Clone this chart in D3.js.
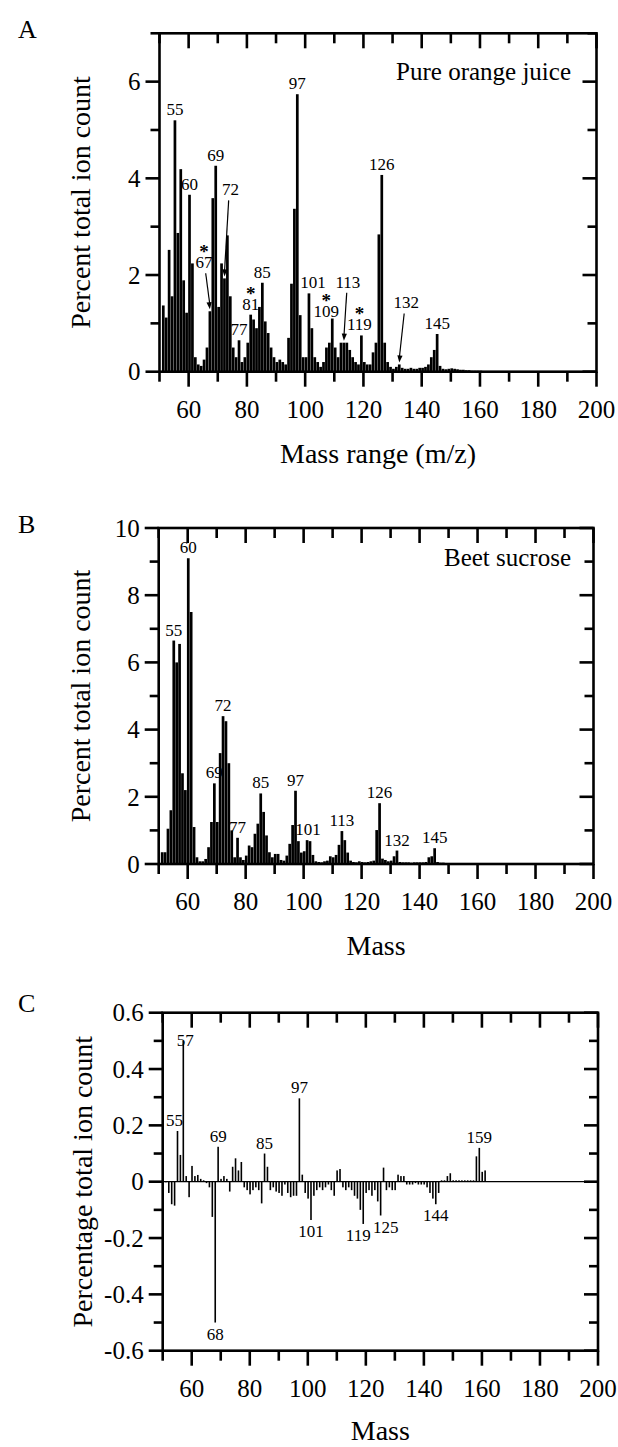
<!DOCTYPE html>
<html><head><meta charset="utf-8">
<script src="https://cdn.jsdelivr.net/npm/d3@7"></script>
<style>
body{margin:0;background:#fff}
svg{display:block}
text{font-family:"Liberation Serif","Times New Roman",serif;fill:#000}
</style>
</head><body>
<svg id="chart" width="618" height="1447"></svg>
<script>
// ---------- DATA ----------
const massStart = 51; // first mass of each values array (m/z 51, 52, ...)
const valuesA = [1.37,1.12,2.52,1.56,5.20,2.87,4.19,1.89,1.22,3.66, // 51-60
  2.24,0.30,0.15,0.12,0.25,0.50,1.25,3.59,4.26,1.34, // 61-70
  2.24,1.93,2.82,1.56,0.50,0.30,0.65,0.20,0.30,0.60, // 71-80
  1.18,1.08,0.90,1.34,1.84,1.04,0.80,0.50,0.30,0.20, // 81-90
  0.25,0.20,0.15,0.70,1.82,3.37,5.74,1.17,0.30,0.30, // 91-100
  1.62,0.90,0.30,0.20,0.10,0.20,0.50,0.60,1.10,0.50, // 101-110
  0.30,0.60,0.60,0.60,0.45,0.30,0.20,0.15,0.75,0.20, // 111-120
  0.15,0.15,0.40,0.60,2.84,4.07,0.60,0.20,0.10,0.06, // 121-130
  0.10,0.15,0.08,0.06,0.06,0.08,0.06,0.06,0.08,0.08, // 131-140
  0.10,0.15,0.30,0.45,0.78,0.12,0.06,0.05,0.06,0.07, // 141-150
  0.06,0.05,0.04,0.04,0.03,0.03,0.02,0.02,0.02,0.02]; // 151-160
const valuesB = [0.35,0.35,1.05,1.60,6.65,6.00,6.55,2.70,2.20,9.10, // 51-60
  7.50,1.10,0.20,0.08,0.08,0.15,0.50,1.25,2.40,1.25, // 61-70
  3.30,4.40,4.25,3.00,1.00,0.20,0.78,0.20,0.12,0.25, // 71-80
  0.55,0.50,0.90,1.20,2.10,1.55,0.85,0.35,0.20,0.30, // 81-90
  0.30,0.12,0.10,0.25,0.60,1.16,2.18,0.68,0.34,0.38, // 91-100
  0.71,0.68,0.27,0.08,0.06,0.05,0.08,0.10,0.23,0.20, // 101-110
  0.27,0.57,0.98,0.71,0.34,0.10,0.06,0.05,0.08,0.06, // 111-120
  0.05,0.06,0.08,0.10,1.01,1.81,0.16,0.12,0.08,0.10, // 121-130
  0.23,0.40,0.06,0.05,0.05,0.05,0.04,0.05,0.05,0.05, // 131-140
  0.05,0.06,0.20,0.23,0.47,0.06,0.04,0.04,0.03,0.03, // 141-150
  0.02,0.02,0.02,0.02,0.02,0.02,0.02,0.02,0.02,0.02]; // 151-160
const valuesC = [0,-0.04,-0.08,-0.085,0.18,0.095,0.50,0.02,-0.055,0.056, // 51-60
  0.02,0.024,0.01,0.005,-0.005,-0.02,-0.125,-0.50,0.124,0.01, // 61-70
  0.02,0.01,-0.035,0.053,0.083,0.04,0.07,-0.02,-0.03,-0.045, // 71-80
  -0.03,-0.02,-0.03,-0.077,0.10,0.053,-0.03,-0.02,-0.035,-0.04, // 81-90
  -0.05,-0.01,-0.04,-0.055,-0.05,-0.05,0.296,0.025,-0.04,-0.06, // 91-100
  -0.136,-0.05,-0.03,-0.02,-0.03,-0.02,-0.01,-0.03,-0.05,0.04, // 101-110
  0.045,-0.02,-0.03,-0.02,-0.03,-0.05,-0.06,-0.10,-0.15,-0.04, // 111-120
  -0.03,-0.05,-0.03,-0.07,-0.12,0.05,-0.03,-0.02,-0.03,-0.03, // 121-130
  0.025,0.02,0.02,-0.01,-0.01,-0.01,-0.005,-0.01,-0.01,-0.01, // 131-140
  -0.02,-0.04,-0.06,-0.08,-0.04,0.005,0.005,0.02,0.03,0.005, // 141-150
  0.005,0.005,0.005,0.005,0.005,0.005,0.005,0.09,0.12,0.035, // 151-160
  0.04]; // 161

const xTicks = [50,60,70,80,90,100,110,120,130,140,150,160,170,180,190,200];
const xTickLabels = [60,80,100,120,140,160,180,200];
const yTicksA = [0,1,2,3,4,5,6,7];
const yTickLabelsA = [0,2,4,6];
const yTicksB = [0,1,2,3,4,5,6,7,8,9,10];
const yTickLabelsB = [0,2,4,6,8,10];
const yTicksC = [-0.6,-0.5,-0.4,-0.3,-0.2,-0.1,0,0.1,0.2,0.3,0.4,0.5,0.6];
const yTickLabelsC = [-0.6,-0.4,-0.2,0,0.2,0.4,0.6];

// annotations: mass, text, flags
const annotA = [
  {m:55,t:"55"},{m:60,t:"60"},{m:67,t:"67",star:true,arrow:true},{m:69,t:"69"},
  {m:72,t:"72",arrow:true},{m:77,t:"77"},{m:81,t:"81",star:true},{m:85,t:"85"},
  {m:97,t:"97"},{m:101,t:"101"},{m:109,t:"109",star:true},{m:113,t:"113",arrow:true},
  {m:119,t:"119",star:true},{m:126,t:"126"},{m:132,t:"132",arrow:true},{m:145,t:"145"}];
const annotB = [
  {m:55,t:"55"},{m:60,t:"60"},{m:69,t:"69"},{m:72,t:"72"},{m:77,t:"77"},{m:85,t:"85"},
  {m:97,t:"97"},{m:101,t:"101"},{m:113,t:"113"},{m:126,t:"126"},{m:132,t:"132"},{m:145,t:"145"}];
const annotC = [
  {m:55,t:"55"},{m:57,t:"57"},{m:68,t:"68"},{m:69,t:"69"},{m:85,t:"85"},{m:97,t:"97"},
  {m:101,t:"101"},{m:119,t:"119"},{m:125,t:"125"},{m:144,t:"144"},{m:159,t:"159"}];

// ---------- LAYOUT (pixel placement only) ----------
const layoutA = {left:159.5, right:596.5, top:33.3, bottom:371.7, yDomain:[0,7],
  labelShift:{67:[-6,-38],72:[6,-78],101:[4,0],109:[-6,3],113:[4,-50],119:[-2,0],132:[7,-51]}};
const layoutB = {left:158.7, right:593.5, top:528, bottom:864, yDomain:[0,10], labelShift:{101:[1,0]}};
const layoutC = {left:162.7, right:598, top:1012.7, bottom:1350.7, yDomain:[-0.6,0.6],
  labelShift:{55:[-3,0],57:[2,10],119:[-5,0],125:[5,0]}};

const svg = d3.select("#chart");

function drawPanel(g, L, values, ticksY, labelsY, yFmt, annots, opts) {
  const x = d3.scaleLinear().domain([50,200]).range([L.left, L.right]);
  const y = d3.scaleLinear().domain(L.yDomain).range([L.bottom, L.top]);
  const masses = values.map((v,i)=>massStart+i);
  const bw = opts.barWidth;
  g.append("g").selectAll("rect").data(values).join("rect")
    .attr("x",(d,i)=>x(masses[i]+opts.barShift)-bw/2)
    .attr("y",d=>Math.min(y(d),y(0)))
    .attr("width",bw)
    .attr("height",d=>Math.max(0.6,Math.abs(y(d)-y(0))))
    .attr("fill","#000");
  if (L.yDomain[0] < 0) {
    g.append("line").attr("x1",L.left).attr("x2",L.right).attr("y1",y(0)).attr("y2",y(0))
      .attr("stroke","#000").attr("stroke-width",1.2);
  }
  const sw = 2.6;
  const frame = g.append("g").attr("stroke","#000").attr("stroke-width",sw).attr("fill","none");
  frame.append("rect").attr("x",L.left).attr("y",L.top).attr("width",L.right-L.left).attr("height",L.bottom-L.top);
  xTicks.forEach(t=>{
    const major = xTickLabels.includes(t);
    const len = major?15:10;
    frame.append("line").attr("x1",x(t)).attr("x2",x(t)).attr("y1",L.bottom).attr("y2",L.bottom+len);
    frame.append("line").attr("x1",x(t)).attr("x2",x(t)).attr("y1",L.top).attr("y2",L.top+len);
  });
  ticksY.forEach(t=>{
    const major = labelsY.some(l=>Math.abs(l-t)<1e-9);
    const len = major?14:9;
    frame.append("line").attr("x1",L.left).attr("x2",L.left-len).attr("y1",y(t)).attr("y2",y(t));
    frame.append("line").attr("x1",L.right).attr("x2",L.right-len).attr("y1",y(t)).attr("y2",y(t));
  });
  g.append("g").selectAll("text").data(xTickLabels).join("text")
    .attr("x",d=>x(d)).attr("y",L.bottom+46).attr("text-anchor","middle")
    .attr("font-size",25).text(d=>d);
  g.append("g").selectAll("text").data(labelsY).join("text")
    .attr("x",L.left-19).attr("y",d=>y(d)).attr("dy","0.35em").attr("text-anchor","end")
    .attr("font-size",25).text(yFmt);
  const ag = g.append("g");
  annots.forEach(a=>{
    const v = values[a.m-massStart];
    const bx = x(a.m+opts.barShift);
    const sh = (L.labelShift && L.labelShift[a.m]) || [0,0];
    const neg = v < 0;
    const ty = neg ? y(v)+17+sh[1] : y(v)-5+sh[1];
    const tx = bx + sh[0];
    const txt = ag.append("text").attr("text-anchor","middle").attr("font-size",17);
    if (a.star) {
      txt.append("tspan").attr("x",tx).attr("y",ty-10).attr("font-size",19).attr("font-weight","bold").text("*");
      txt.append("tspan").attr("x",tx).attr("y",ty).text(a.t);
    } else {
      txt.attr("x",tx).attr("y",ty).text(a.t);
    }
    if (a.arrow) {
      const sx = tx-(tx-bx)*0.3;
      const y1 = ty+5, y2 = y(v)-2;
      ag.append("line").attr("x1",sx).attr("y1",y1).attr("x2",bx).attr("y2",y2-4)
        .attr("stroke","#000").attr("stroke-width",1.2);
      const ang = Math.atan2(y2-y1, bx-sx);
      const hx = bx, hy = y2, s = 7, w = 2.6;
      const px = Math.cos(ang), py = Math.sin(ang);
      ag.append("path").attr("d",
        `M${hx},${hy} L${hx-px*s-py*w},${hy-py*s+px*w} L${hx-px*s+py*w},${hy-py*s-px*w} Z`)
        .attr("fill","#000");
    }
  });
  g.append("text").attr("transform",`translate(${opts.yTitleX},${(L.top+L.bottom)/2}) rotate(-90)`)
    .attr("text-anchor","middle").attr("font-size",28).text(opts.yTitle);
  g.append("text").attr("x",(L.left+L.right)/2).attr("y",opts.xTitleY).attr("text-anchor","middle")
    .attr("font-size",28).text(opts.xTitle);
  g.append("text").attr("x",18).attr("y",opts.letterY).attr("font-size",26).text(opts.letter);
  if (opts.inset) {
    g.append("text").attr("x",opts.insetX).attr("y",opts.insetY).attr("text-anchor","end")
      .attr("font-size",25).text(opts.inset);
  }
}

drawPanel(svg.append("g"), layoutA, valuesA, yTicksA, yTickLabelsA, d=>d, annotA,
  {barWidth:2.7, barShift:0.3, yTitle:"Percent total ion count", yTitleX:90, xTitle:"Mass range (m/z)",
   xTitleY:463, letter:"A", letterY:38, inset:"Pure orange juice", insetX:571, insetY:80});
drawPanel(svg.append("g"), layoutB, valuesB, yTicksB, yTickLabelsB, d=>d, annotB,
  {barWidth:2.7, barShift:0.2, yTitle:"Percent total ion count", yTitleX:90, xTitle:"Mass",
   xTitleY:955, letter:"B", letterY:533, inset:"Beet sucrose", insetX:571, insetY:566});
drawPanel(svg.append("g"), layoutC, valuesC, yTicksC, yTickLabelsC, d=>(d===0?"0":d.toFixed(1)), annotC,
  {barWidth:1.6, barShift:0.1, yTitle:"Percentage total ion count", yTitleX:92, xTitle:"Mass",
   xTitleY:1440, letter:"C", letterY:1012});
</script>
</body></html>
